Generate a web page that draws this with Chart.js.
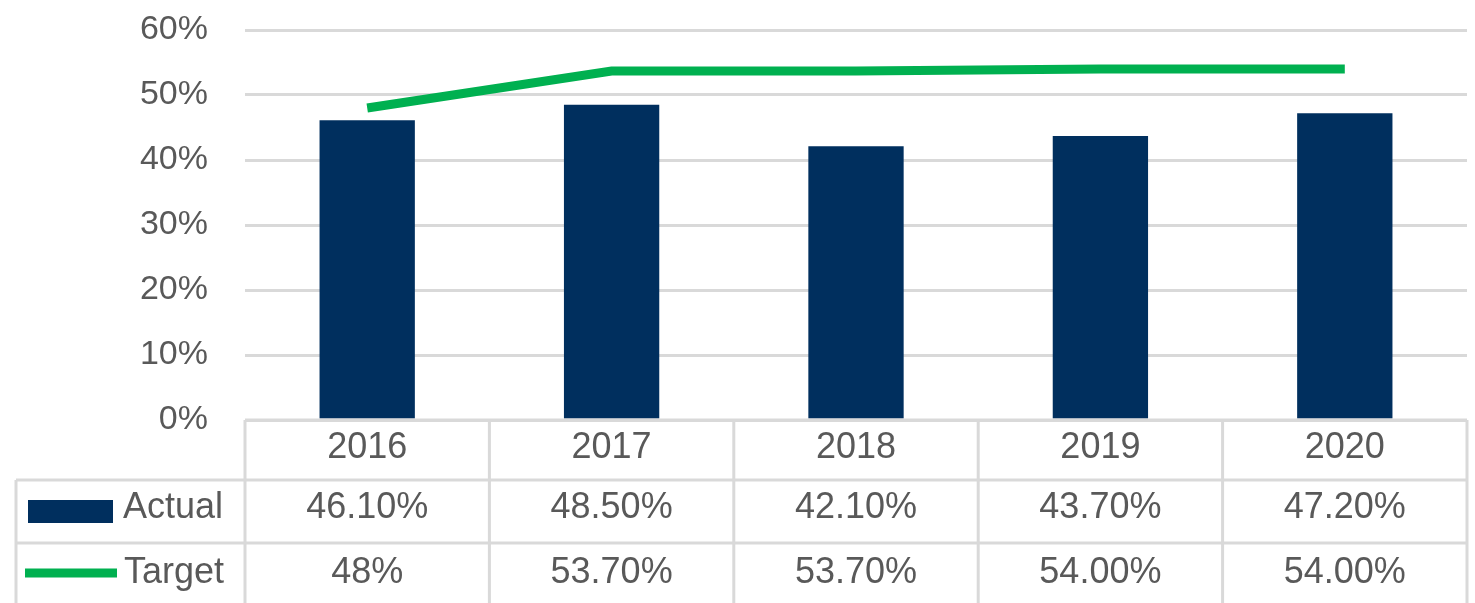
<!DOCTYPE html>
<html>
<head>
<meta charset="utf-8">
<script src="https://cdn.jsdelivr.net/npm/chart.js@4"></script>
<style>
  html, body { margin: 0; padding: 0; background: #fff; }
  .chart-container { position: relative; width: 1475px; height: 603px; }
</style>
</head>
<body>
<div class="chart-container">
  <canvas id="targetChart"></canvas>
</div>
<script type="text/javascript">
// chart data
const years = ["2016", "2017", "2018", "2019", "2020"];
const actualValues = [46.1, 48.5, 42.1, 43.7, 47.2];
const targetValues = [48, 53.7, 53.7, 54, 54];
// data table texts, as printed in the table
const actualLabels = ["46.10%", "48.50%", "42.10%", "43.70%", "47.20%"];
const targetLabels = ["48%", "53.70%", "53.70%", "54.00%", "54.00%"];

const navy = "#002f5e";
const green = "#00b050";
const gridGray = "#d9d9d9";
const textGray = "#595959";
const font = "36px 'Liberation Sans', Arial, sans-serif";

// draws the excel-like data table under the plot
const dataTable = {
  id: "dataTable",
  afterDraw(chart) {
    const ctx = chart.ctx;
    const x = chart.scales.x;
    const area = chart.chartArea;
    const colW = x.width / years.length;
    const top = area.bottom;
    const r1 = top + 60, r2 = r1 + 63, r3 = r2 + 63;
    const left = 16;

    ctx.save();
    ctx.strokeStyle = gridGray;
    ctx.lineWidth = 3;
    ctx.beginPath();
    ctx.moveTo(area.left, top); ctx.lineTo(area.right, top);
    [r1, r2, r3].forEach(function (y) {
      ctx.moveTo(left, y); ctx.lineTo(area.right, y);
    });
    ctx.moveTo(left, r1); ctx.lineTo(left, r3);
    for (let i = 0; i <= years.length; i++) {
      const cx = x.getPixelForValue(0) - colW / 2 + i * colW;
      ctx.moveTo(cx, top); ctx.lineTo(cx, r3);
    }
    ctx.stroke();

    ctx.font = font;
    ctx.fillStyle = textGray;
    ctx.textAlign = "center";
    ctx.textBaseline = "middle";
    years.forEach(function (yr, i) {
      const cx = x.getPixelForValue(i);
      ctx.fillText(yr, cx, top + 28);
      ctx.fillText(actualLabels[i], cx, r1 + 28);
      ctx.fillText(targetLabels[i], cx, r2 + 30);
    });

    // series keys
    ctx.fillStyle = navy;
    ctx.fillRect(28, r1 + 20, 85, 23);
    ctx.strokeStyle = green;
    ctx.lineWidth = 9;
    ctx.beginPath();
    ctx.moveTo(25, r2 + 30); ctx.lineTo(117, r2 + 30);
    ctx.stroke();

    ctx.fillStyle = textGray;
    ctx.textAlign = "left";
    ctx.fillText("Actual", 123, r1 + 28);
    ctx.fillText("Target", 124, r2 + 30);
    ctx.restore();
  }
};

new Chart("targetChart", {
  data: {
    labels: years,
    datasets: [
      {
        type: "line",
        label: "Target",
        data: targetValues,
        borderColor: green,
        backgroundColor: green,
        borderWidth: 9,
        pointRadius: 0,
        tension: 0,
        fill: false,
        order: 0
      },
      {
        type: "bar",
        label: "Actual",
        data: actualValues,
        backgroundColor: navy,
        categoryPercentage: 1,
        barPercentage: 0.39,
        order: 1
      }
    ]
  },
  options: {
    responsive: true,
    maintainAspectRatio: false,
    animation: false,
    layout: {
      padding: { top: 30, right: 8, bottom: 183, left: 0 }
    },
    plugins: {
      legend: { display: false },
      tooltip: { enabled: false }
    },
    scales: {
      x: { display: false },
      y: {
        min: 0,
        max: 60,
        afterFit: function (scale) {
          scale.width = 245;
          scale.paddingTop = 0;
          scale.paddingBottom = 0;
        },
        border: { display: false },
        grid: { color: gridGray, lineWidth: 3, drawTicks: false },
        ticks: {
          stepSize: 10,
          padding: 37,
          color: textGray,
          font: { family: "'Liberation Sans', Arial, sans-serif", size: 34 },
          callback: function (v) { return v + "%"; }
        }
      }
    }
  },
  plugins: [dataTable]
});
</script>
</body>
</html>
